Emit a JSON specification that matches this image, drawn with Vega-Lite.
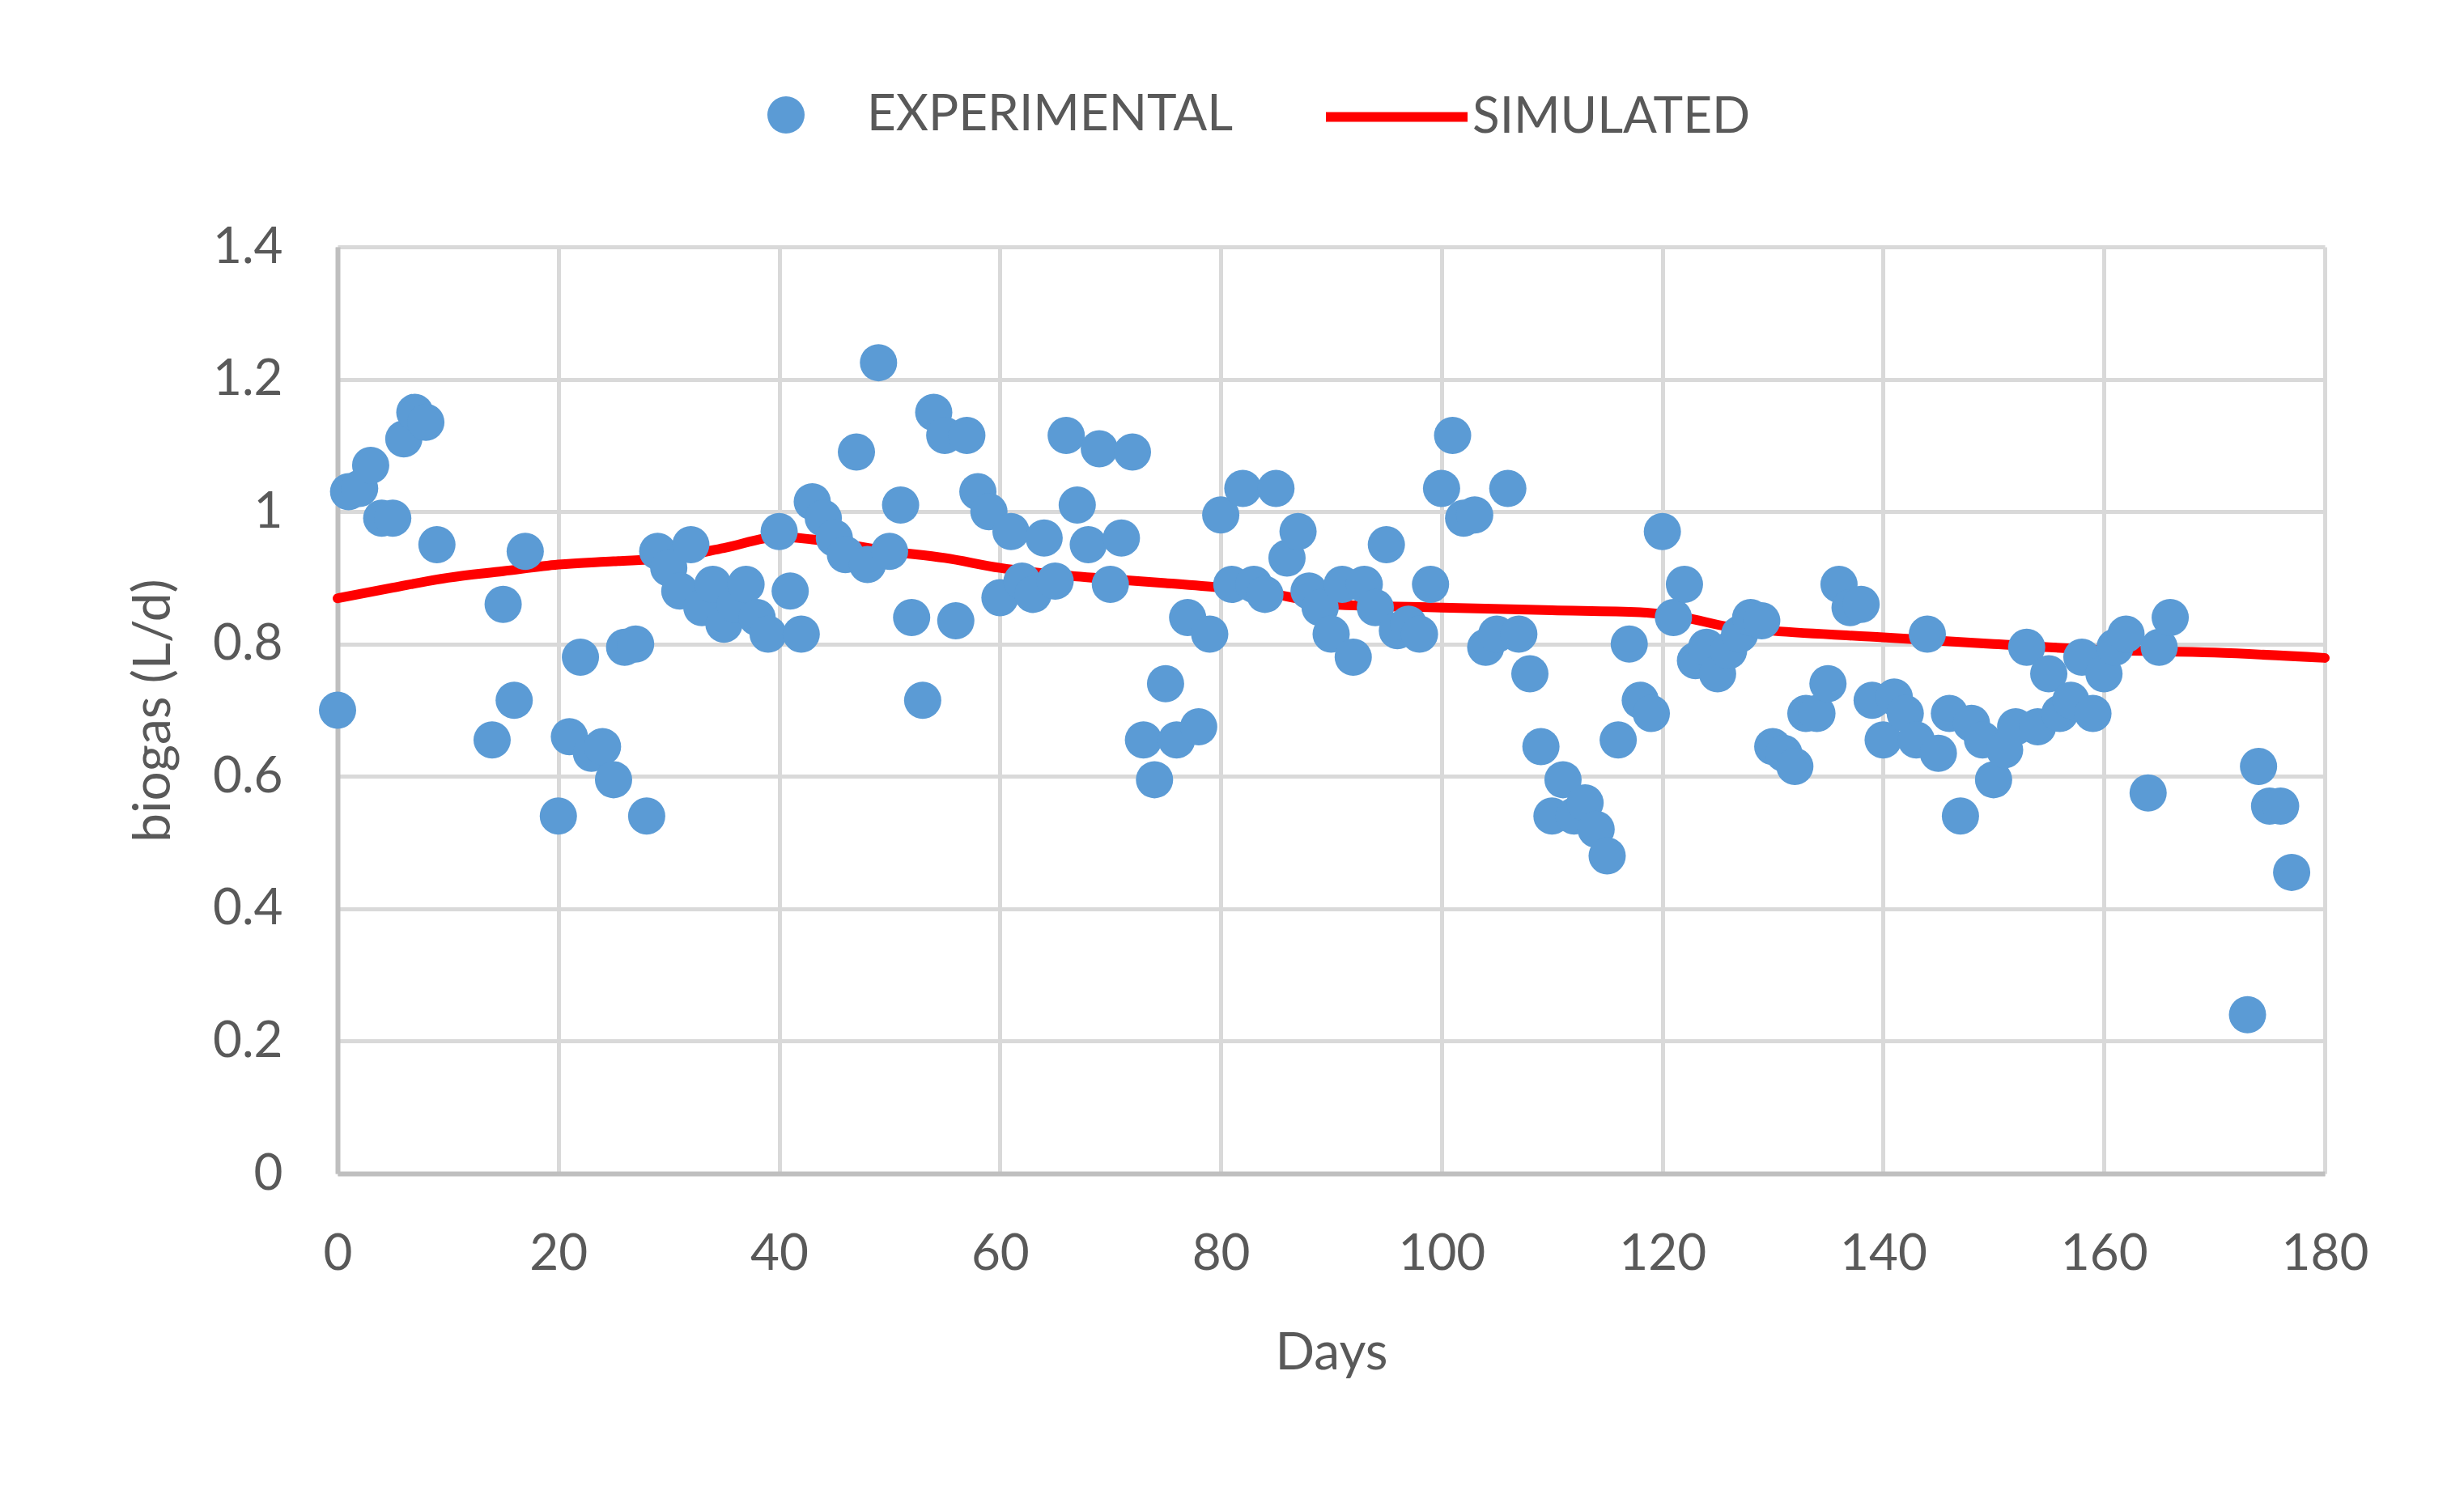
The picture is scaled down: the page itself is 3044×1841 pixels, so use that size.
{
  "$schema": "https://vega.github.io/schema/vega-lite/v6.json",
  "width": 2455,
  "height": 1145,
  "autosize": {"type": "none"},
  "padding": {"left": 417, "top": 305, "right": 172, "bottom": 391},
  "background": "white",
  "config": {
    "view": {"stroke": null},
    "font": "Lato",
    "axis": {
      "domainColor": "#BFBFBF",
      "domainWidth": 6,
      "gridColor": "#D9D9D9",
      "gridWidth": 5,
      "ticks": false,
      "labelFlush": false,
      "labelFontSize": 62,
      "labelColor": "#595959",
      "titleFontSize": 64,
      "titleFontWeight": "normal",
      "titleColor": "#595959"
    },
    "legend": {
      "orient": "none",
      "direction": "horizontal",
      "padding": 0,
      "labelFontSize": 62,
      "labelColor": "#595959",
      "labelLimit": 0
    }
  },
  "datasets": {
    "sim": [
      {"day": 0, "biogas": 0.869, "series": "SIMULATED"},
      {"day": 5, "biogas": 0.885, "series": "SIMULATED"},
      {"day": 10, "biogas": 0.9, "series": "SIMULATED"},
      {"day": 15, "biogas": 0.91, "series": "SIMULATED"},
      {"day": 20, "biogas": 0.92, "series": "SIMULATED"},
      {"day": 25, "biogas": 0.925, "series": "SIMULATED"},
      {"day": 30, "biogas": 0.93, "series": "SIMULATED"},
      {"day": 35, "biogas": 0.945, "series": "SIMULATED"},
      {"day": 40, "biogas": 0.962, "series": "SIMULATED"},
      {"day": 43, "biogas": 0.958, "series": "SIMULATED"},
      {"day": 50, "biogas": 0.94, "series": "SIMULATED"},
      {"day": 55, "biogas": 0.93, "series": "SIMULATED"},
      {"day": 60, "biogas": 0.915, "series": "SIMULATED"},
      {"day": 65, "biogas": 0.905, "series": "SIMULATED"},
      {"day": 70, "biogas": 0.898, "series": "SIMULATED"},
      {"day": 75, "biogas": 0.892, "series": "SIMULATED"},
      {"day": 80, "biogas": 0.885, "series": "SIMULATED"},
      {"day": 85, "biogas": 0.875, "series": "SIMULATED"},
      {"day": 88, "biogas": 0.865, "series": "SIMULATED"},
      {"day": 90, "biogas": 0.86, "series": "SIMULATED"},
      {"day": 100, "biogas": 0.855, "series": "SIMULATED"},
      {"day": 110, "biogas": 0.851, "series": "SIMULATED"},
      {"day": 118, "biogas": 0.848, "series": "SIMULATED"},
      {"day": 122, "biogas": 0.84, "series": "SIMULATED"},
      {"day": 126, "biogas": 0.826, "series": "SIMULATED"},
      {"day": 130, "biogas": 0.82, "series": "SIMULATED"},
      {"day": 140, "biogas": 0.81, "series": "SIMULATED"},
      {"day": 150, "biogas": 0.8, "series": "SIMULATED"},
      {"day": 160, "biogas": 0.791, "series": "SIMULATED"},
      {"day": 170, "biogas": 0.787, "series": "SIMULATED"},
      {"day": 180, "biogas": 0.779, "series": "SIMULATED"}
    ],
    "exp": [
      {"day": 0, "biogas": 0.70, "series": "EXPERIMENTAL"},
      {"day": 1, "biogas": 1.03, "series": "EXPERIMENTAL"},
      {"day": 2, "biogas": 1.035, "series": "EXPERIMENTAL"},
      {"day": 3, "biogas": 1.07, "series": "EXPERIMENTAL"},
      {"day": 4, "biogas": 0.99, "series": "EXPERIMENTAL"},
      {"day": 5, "biogas": 0.99, "series": "EXPERIMENTAL"},
      {"day": 6, "biogas": 1.11, "series": "EXPERIMENTAL"},
      {"day": 7, "biogas": 1.15, "series": "EXPERIMENTAL"},
      {"day": 8, "biogas": 1.135, "series": "EXPERIMENTAL"},
      {"day": 9, "biogas": 0.95, "series": "EXPERIMENTAL"},
      {"day": 14, "biogas": 0.655, "series": "EXPERIMENTAL"},
      {"day": 15, "biogas": 0.86, "series": "EXPERIMENTAL"},
      {"day": 16, "biogas": 0.715, "series": "EXPERIMENTAL"},
      {"day": 17, "biogas": 0.94, "series": "EXPERIMENTAL"},
      {"day": 20, "biogas": 0.54, "series": "EXPERIMENTAL"},
      {"day": 21, "biogas": 0.66, "series": "EXPERIMENTAL"},
      {"day": 22, "biogas": 0.78, "series": "EXPERIMENTAL"},
      {"day": 23, "biogas": 0.635, "series": "EXPERIMENTAL"},
      {"day": 24, "biogas": 0.645, "series": "EXPERIMENTAL"},
      {"day": 25, "biogas": 0.595, "series": "EXPERIMENTAL"},
      {"day": 26, "biogas": 0.795, "series": "EXPERIMENTAL"},
      {"day": 27, "biogas": 0.80, "series": "EXPERIMENTAL"},
      {"day": 28, "biogas": 0.54, "series": "EXPERIMENTAL"},
      {"day": 29, "biogas": 0.94, "series": "EXPERIMENTAL"},
      {"day": 30, "biogas": 0.915, "series": "EXPERIMENTAL"},
      {"day": 31, "biogas": 0.88, "series": "EXPERIMENTAL"},
      {"day": 32, "biogas": 0.95, "series": "EXPERIMENTAL"},
      {"day": 33, "biogas": 0.855, "series": "EXPERIMENTAL"},
      {"day": 34, "biogas": 0.89, "series": "EXPERIMENTAL"},
      {"day": 35, "biogas": 0.83, "series": "EXPERIMENTAL"},
      {"day": 36, "biogas": 0.86, "series": "EXPERIMENTAL"},
      {"day": 37, "biogas": 0.89, "series": "EXPERIMENTAL"},
      {"day": 38, "biogas": 0.84, "series": "EXPERIMENTAL"},
      {"day": 39, "biogas": 0.815, "series": "EXPERIMENTAL"},
      {"day": 40, "biogas": 0.97, "series": "EXPERIMENTAL"},
      {"day": 41, "biogas": 0.88, "series": "EXPERIMENTAL"},
      {"day": 42, "biogas": 0.815, "series": "EXPERIMENTAL"},
      {"day": 43, "biogas": 1.015, "series": "EXPERIMENTAL"},
      {"day": 44, "biogas": 0.99, "series": "EXPERIMENTAL"},
      {"day": 45, "biogas": 0.96, "series": "EXPERIMENTAL"},
      {"day": 46, "biogas": 0.935, "series": "EXPERIMENTAL"},
      {"day": 47, "biogas": 1.09, "series": "EXPERIMENTAL"},
      {"day": 48, "biogas": 0.92, "series": "EXPERIMENTAL"},
      {"day": 49, "biogas": 1.225, "series": "EXPERIMENTAL"},
      {"day": 50, "biogas": 0.94, "series": "EXPERIMENTAL"},
      {"day": 51, "biogas": 1.01, "series": "EXPERIMENTAL"},
      {"day": 52, "biogas": 0.84, "series": "EXPERIMENTAL"},
      {"day": 53, "biogas": 0.715, "series": "EXPERIMENTAL"},
      {"day": 54, "biogas": 1.15, "series": "EXPERIMENTAL"},
      {"day": 55, "biogas": 1.115, "series": "EXPERIMENTAL"},
      {"day": 56, "biogas": 0.835, "series": "EXPERIMENTAL"},
      {"day": 57, "biogas": 1.115, "series": "EXPERIMENTAL"},
      {"day": 58, "biogas": 1.03, "series": "EXPERIMENTAL"},
      {"day": 59, "biogas": 1.0, "series": "EXPERIMENTAL"},
      {"day": 60, "biogas": 0.87, "series": "EXPERIMENTAL"},
      {"day": 61, "biogas": 0.97, "series": "EXPERIMENTAL"},
      {"day": 62, "biogas": 0.895, "series": "EXPERIMENTAL"},
      {"day": 63, "biogas": 0.875, "series": "EXPERIMENTAL"},
      {"day": 64, "biogas": 0.96, "series": "EXPERIMENTAL"},
      {"day": 65, "biogas": 0.895, "series": "EXPERIMENTAL"},
      {"day": 66, "biogas": 1.115, "series": "EXPERIMENTAL"},
      {"day": 67, "biogas": 1.01, "series": "EXPERIMENTAL"},
      {"day": 68, "biogas": 0.95, "series": "EXPERIMENTAL"},
      {"day": 69, "biogas": 1.095, "series": "EXPERIMENTAL"},
      {"day": 70, "biogas": 0.89, "series": "EXPERIMENTAL"},
      {"day": 71, "biogas": 0.96, "series": "EXPERIMENTAL"},
      {"day": 72, "biogas": 1.09, "series": "EXPERIMENTAL"},
      {"day": 73, "biogas": 0.655, "series": "EXPERIMENTAL"},
      {"day": 74, "biogas": 0.595, "series": "EXPERIMENTAL"},
      {"day": 75, "biogas": 0.74, "series": "EXPERIMENTAL"},
      {"day": 76, "biogas": 0.655, "series": "EXPERIMENTAL"},
      {"day": 77, "biogas": 0.84, "series": "EXPERIMENTAL"},
      {"day": 78, "biogas": 0.675, "series": "EXPERIMENTAL"},
      {"day": 79, "biogas": 0.815, "series": "EXPERIMENTAL"},
      {"day": 80, "biogas": 0.995, "series": "EXPERIMENTAL"},
      {"day": 81, "biogas": 0.89, "series": "EXPERIMENTAL"},
      {"day": 82, "biogas": 1.035, "series": "EXPERIMENTAL"},
      {"day": 83, "biogas": 0.89, "series": "EXPERIMENTAL"},
      {"day": 84, "biogas": 0.875, "series": "EXPERIMENTAL"},
      {"day": 85, "biogas": 1.035, "series": "EXPERIMENTAL"},
      {"day": 86, "biogas": 0.93, "series": "EXPERIMENTAL"},
      {"day": 87, "biogas": 0.97, "series": "EXPERIMENTAL"},
      {"day": 88, "biogas": 0.88, "series": "EXPERIMENTAL"},
      {"day": 89, "biogas": 0.855, "series": "EXPERIMENTAL"},
      {"day": 90, "biogas": 0.815, "series": "EXPERIMENTAL"},
      {"day": 91, "biogas": 0.89, "series": "EXPERIMENTAL"},
      {"day": 92, "biogas": 0.78, "series": "EXPERIMENTAL"},
      {"day": 93, "biogas": 0.89, "series": "EXPERIMENTAL"},
      {"day": 94, "biogas": 0.855, "series": "EXPERIMENTAL"},
      {"day": 95, "biogas": 0.95, "series": "EXPERIMENTAL"},
      {"day": 96, "biogas": 0.82, "series": "EXPERIMENTAL"},
      {"day": 97, "biogas": 0.83, "series": "EXPERIMENTAL"},
      {"day": 98, "biogas": 0.815, "series": "EXPERIMENTAL"},
      {"day": 99, "biogas": 0.89, "series": "EXPERIMENTAL"},
      {"day": 100, "biogas": 1.035, "series": "EXPERIMENTAL"},
      {"day": 101, "biogas": 1.115, "series": "EXPERIMENTAL"},
      {"day": 102, "biogas": 0.99, "series": "EXPERIMENTAL"},
      {"day": 103, "biogas": 0.995, "series": "EXPERIMENTAL"},
      {"day": 104, "biogas": 0.795, "series": "EXPERIMENTAL"},
      {"day": 105, "biogas": 0.815, "series": "EXPERIMENTAL"},
      {"day": 106, "biogas": 1.035, "series": "EXPERIMENTAL"},
      {"day": 107, "biogas": 0.815, "series": "EXPERIMENTAL"},
      {"day": 108, "biogas": 0.755, "series": "EXPERIMENTAL"},
      {"day": 109, "biogas": 0.645, "series": "EXPERIMENTAL"},
      {"day": 110, "biogas": 0.54, "series": "EXPERIMENTAL"},
      {"day": 111, "biogas": 0.595, "series": "EXPERIMENTAL"},
      {"day": 112, "biogas": 0.54, "series": "EXPERIMENTAL"},
      {"day": 113, "biogas": 0.56, "series": "EXPERIMENTAL"},
      {"day": 114, "biogas": 0.52, "series": "EXPERIMENTAL"},
      {"day": 115, "biogas": 0.48, "series": "EXPERIMENTAL"},
      {"day": 116, "biogas": 0.655, "series": "EXPERIMENTAL"},
      {"day": 117, "biogas": 0.80, "series": "EXPERIMENTAL"},
      {"day": 118, "biogas": 0.715, "series": "EXPERIMENTAL"},
      {"day": 119, "biogas": 0.695, "series": "EXPERIMENTAL"},
      {"day": 120, "biogas": 0.97, "series": "EXPERIMENTAL"},
      {"day": 121, "biogas": 0.84, "series": "EXPERIMENTAL"},
      {"day": 122, "biogas": 0.89, "series": "EXPERIMENTAL"},
      {"day": 123, "biogas": 0.775, "series": "EXPERIMENTAL"},
      {"day": 124, "biogas": 0.795, "series": "EXPERIMENTAL"},
      {"day": 125, "biogas": 0.755, "series": "EXPERIMENTAL"},
      {"day": 126, "biogas": 0.79, "series": "EXPERIMENTAL"},
      {"day": 127, "biogas": 0.815, "series": "EXPERIMENTAL"},
      {"day": 128, "biogas": 0.84, "series": "EXPERIMENTAL"},
      {"day": 129, "biogas": 0.835, "series": "EXPERIMENTAL"},
      {"day": 130, "biogas": 0.645, "series": "EXPERIMENTAL"},
      {"day": 131, "biogas": 0.635, "series": "EXPERIMENTAL"},
      {"day": 132, "biogas": 0.615, "series": "EXPERIMENTAL"},
      {"day": 133, "biogas": 0.695, "series": "EXPERIMENTAL"},
      {"day": 134, "biogas": 0.695, "series": "EXPERIMENTAL"},
      {"day": 135, "biogas": 0.74, "series": "EXPERIMENTAL"},
      {"day": 136, "biogas": 0.89, "series": "EXPERIMENTAL"},
      {"day": 137, "biogas": 0.855, "series": "EXPERIMENTAL"},
      {"day": 138, "biogas": 0.86, "series": "EXPERIMENTAL"},
      {"day": 139, "biogas": 0.715, "series": "EXPERIMENTAL"},
      {"day": 140, "biogas": 0.655, "series": "EXPERIMENTAL"},
      {"day": 141, "biogas": 0.72, "series": "EXPERIMENTAL"},
      {"day": 142, "biogas": 0.695, "series": "EXPERIMENTAL"},
      {"day": 143, "biogas": 0.655, "series": "EXPERIMENTAL"},
      {"day": 144, "biogas": 0.815, "series": "EXPERIMENTAL"},
      {"day": 145, "biogas": 0.635, "series": "EXPERIMENTAL"},
      {"day": 146, "biogas": 0.695, "series": "EXPERIMENTAL"},
      {"day": 147, "biogas": 0.54, "series": "EXPERIMENTAL"},
      {"day": 148, "biogas": 0.68, "series": "EXPERIMENTAL"},
      {"day": 149, "biogas": 0.655, "series": "EXPERIMENTAL"},
      {"day": 150, "biogas": 0.595, "series": "EXPERIMENTAL"},
      {"day": 151, "biogas": 0.64, "series": "EXPERIMENTAL"},
      {"day": 152, "biogas": 0.675, "series": "EXPERIMENTAL"},
      {"day": 153, "biogas": 0.795, "series": "EXPERIMENTAL"},
      {"day": 154, "biogas": 0.675, "series": "EXPERIMENTAL"},
      {"day": 155, "biogas": 0.755, "series": "EXPERIMENTAL"},
      {"day": 156, "biogas": 0.695, "series": "EXPERIMENTAL"},
      {"day": 157, "biogas": 0.715, "series": "EXPERIMENTAL"},
      {"day": 158, "biogas": 0.78, "series": "EXPERIMENTAL"},
      {"day": 159, "biogas": 0.695, "series": "EXPERIMENTAL"},
      {"day": 160, "biogas": 0.755, "series": "EXPERIMENTAL"},
      {"day": 161, "biogas": 0.795, "series": "EXPERIMENTAL"},
      {"day": 162, "biogas": 0.815, "series": "EXPERIMENTAL"},
      {"day": 164, "biogas": 0.575, "series": "EXPERIMENTAL"},
      {"day": 165, "biogas": 0.795, "series": "EXPERIMENTAL"},
      {"day": 166, "biogas": 0.84, "series": "EXPERIMENTAL"},
      {"day": 173, "biogas": 0.24, "series": "EXPERIMENTAL"},
      {"day": 174, "biogas": 0.615, "series": "EXPERIMENTAL"},
      {"day": 175, "biogas": 0.555, "series": "EXPERIMENTAL"},
      {"day": 176, "biogas": 0.555, "series": "EXPERIMENTAL"},
      {"day": 177, "biogas": 0.455, "series": "EXPERIMENTAL"}
    ]
  },
  "encoding": {
    "x": {
      "field": "day",
      "type": "quantitative",
      "title": "Days",
      "scale": {"domain": [0, 180], "nice": false},
      "axis": {
        "values": [0, 20, 40, 60, 80, 100, 120, 140, 160, 180],
        "labelPadding": 69,
        "titlePadding": 60
      }
    },
    "y": {
      "field": "biogas",
      "type": "quantitative",
      "title": "biogas (L/d)",
      "scale": {"domain": [0, 1.4], "nice": false},
      "axis": {
        "values": [0, 0.2, 0.4, 0.6, 0.8, 1, 1.2, 1.4],
        "format": "~g",
        "labelPadding": 68,
        "titlePadding": 40
      }
    }
  },
  "layer": [
    {
      "data": {"name": "sim"},
      "mark": {"type": "line", "strokeWidth": 12, "interpolate": "monotone", "strokeCap": "round"},
      "encoding": {
        "stroke": {
          "field": "series",
          "type": "nominal",
          "scale": {"domain": ["SIMULATED"], "range": ["#FF0000"]},
          "legend": {
            "legendX": 1215,
            "legendY": -254,
            "title": null,
            "symbolType": "stroke",
            "symbolSize": 30625,
            "symbolStrokeWidth": 12,
            "labelOffset": 0
          }
        }
      }
    },
    {
      "data": {"name": "exp"},
      "mark": {"type": "point", "filled": true, "opacity": 1, "size": 2116},
      "encoding": {
        "fill": {
          "field": "series",
          "type": "nominal",
          "scale": {"domain": ["EXPERIMENTAL"], "range": ["#5B9BD5"]},
          "legend": {
            "legendX": 523,
            "legendY": -194,
            "title": null,
            "symbolType": "circle",
            "symbolSize": 2116,
            "symbolOpacity": 1,
            "labelOffset": 69
          }
        }
      }
    }
  ]
}
